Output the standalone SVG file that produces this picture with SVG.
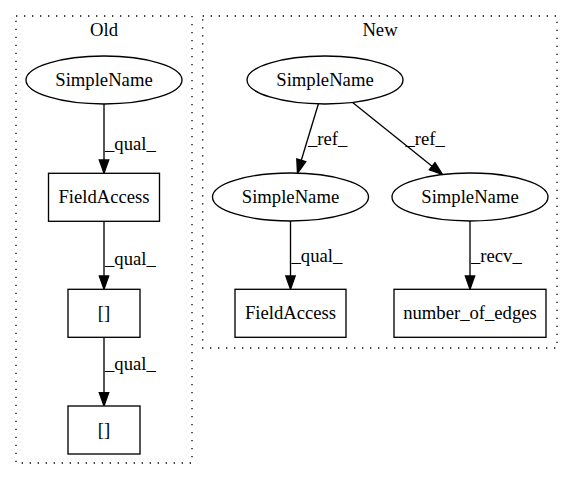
<svg xmlns="http://www.w3.org/2000/svg" width="573" height="480" viewBox="0 0 573 480">
<defs>
<style>
.cl{fill:none;stroke:#000;stroke-width:1.33;stroke-dasharray:1.33,6.67}
.nd{fill:#fff;stroke:#000;stroke-width:1.33}
.ed{fill:none;stroke:#000;stroke-width:1.33}
.ah{fill:#000;stroke:#000;stroke-width:1.33}
text{font-family:"Liberation Serif","Times New Roman",serif;font-size:18.67px;fill:#000}
.c{text-anchor:middle}
</style>
</defs>
<rect width="573" height="480" fill="#fff"/>
<g id="cluster_old">
<rect class="cl" x="16" y="16" width="176" height="447"/>
<text class="c" x="104" y="36">Old</text>
</g>
<g id="cluster_new">
<rect class="cl" x="202.7" y="16" width="354.3" height="332"/>
<text class="c" x="380" y="36">New</text>
</g>
<g id="edges">
<line class="ed" x1="104" y1="104" x2="104" y2="160"/>
<polygon class="ah" points="99.3,160 108.7,160 104,173.3"/>
<text x="105" y="150">_qual_</text>
<line class="ed" x1="104" y1="221.3" x2="104" y2="276"/>
<polygon class="ah" points="99.3,276 108.7,276 104,289.3"/>
<text x="105" y="265">_qual_</text>
<line class="ed" x1="104" y1="337.3" x2="104" y2="392.7"/>
<polygon class="ah" points="99.3,392.7 108.7,392.7 104,406"/>
<text x="105" y="370">_qual_</text>
<line class="ed" x1="318.5" y1="103.5" x2="301.3" y2="160.3"/>
<polygon class="ah" points="305.8,161.6 296.8,159.0 297.5,173.3"/>
<text x="308" y="145">_ref_</text>
<line class="ed" x1="352" y1="102" x2="432.1" y2="166.2"/>
<polygon class="ah" points="429.2,169.8 435,162.6 442.5,174.5"/>
<text x="405.5" y="145">_ref_</text>
<line class="ed" x1="290.5" y1="221" x2="290.5" y2="276"/>
<polygon class="ah" points="285.8,276 295.2,276 290.5,289.3"/>
<text x="291.5" y="262">_qual_</text>
<line class="ed" x1="470" y1="221" x2="470" y2="276"/>
<polygon class="ah" points="465.3,276 474.7,276 470,289.3"/>
<text x="471" y="262">_recv_</text>
</g>
<g id="old_simplename">
<ellipse class="nd" cx="104" cy="80" rx="78" ry="24"/>
<text class="c" x="104" y="86">SimpleName</text>
</g>
<g id="old_fieldaccess">
<rect class="nd" x="48.5" y="173.3" width="111" height="48"/>
<text class="c" x="104" y="203.3">FieldAccess</text>
</g>
<g id="old_index1">
<rect class="nd" x="68" y="289.3" width="72" height="48"/>
<text class="c" x="104" y="319.3">[]</text>
</g>
<g id="old_index2">
<rect class="nd" x="68" y="406" width="72" height="48"/>
<text class="c" x="104" y="436">[]</text>
</g>
<g id="new_simplename_top">
<ellipse class="nd" cx="325" cy="80" rx="78" ry="24"/>
<text class="c" x="325" y="86">SimpleName</text>
</g>
<g id="new_simplename_left">
<ellipse class="nd" cx="290.5" cy="197" rx="78" ry="24"/>
<text class="c" x="290.5" y="203">SimpleName</text>
</g>
<g id="new_simplename_right">
<ellipse class="nd" cx="470" cy="197" rx="78" ry="24"/>
<text class="c" x="470" y="203">SimpleName</text>
</g>
<g id="new_fieldaccess">
<rect class="nd" x="235" y="289.3" width="111" height="48"/>
<text class="c" x="290.5" y="319.3">FieldAccess</text>
</g>
<g id="new_number_of_edges">
<rect class="nd" x="394" y="289.3" width="152" height="48"/>
<text class="c" x="470" y="319.3">number_of_edges</text>
</g>
</svg>
